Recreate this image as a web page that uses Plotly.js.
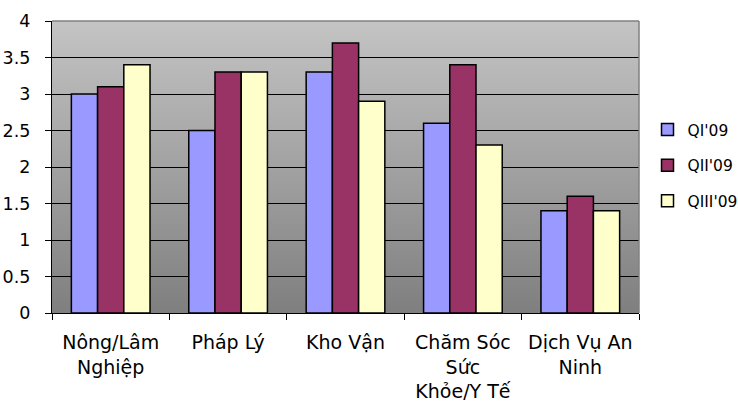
<!DOCTYPE html>
<html>
<head>
<meta charset="utf-8">
<script src="https://cdn.plot.ly/plotly-3.0.1.min.js"></script>
<style>html,body{margin:0;padding:0;background:#fff;}#chart{width:738px;height:407px;}</style>
</head>
<body>
<div id="chart"></div>
<script>
const categories = ["Nông/Lâm<br>Nghiệp", "Pháp Lý", "Kho Vận", "Chăm Sóc<br>Sức<br>Khỏe/Y Tế", "Dịch Vụ An<br>Ninh"];
const seriesNames = ["QI'09", "QII'09", "QIII'09"];
const q1 = [3.0, 2.5, 3.3, 2.6, 1.4];
const q2 = [3.1, 3.3, 3.7, 3.4, 1.6];
const q3 = [3.4, 3.3, 2.9, 2.3, 1.4];
const colors = ["#9999FF", "#993366", "#FFFFCC"];
const yTicks = [0, 0.5, 1, 1.5, 2, 2.5, 3, 3.5, 4];

const fam = "DejaVu Sans, sans-serif";
const yFont = {family: fam, size: 17.5, color: "#000"};
const xFont = {family: fam, size: 19, color: "#000"};
const legFont = {family: fam, size: 15.5, color: "#000"};
const data = [q1, q2, q3].map((vals, i) => ({
  type: "bar", x: categories, y: vals, name: seriesNames[i], legendgroup: "g" + i,
  marker: {color: colors[i], line: {color: "#000", width: 1.5}}
}));

const grad = 'data:image/svg+xml;utf8,' + encodeURIComponent(
  '<svg xmlns="http://www.w3.org/2000/svg" width="100" height="100" preserveAspectRatio="none">' +
  '<defs><linearGradient id="g" x1="0" y1="0" x2="0" y2="1"><stop offset="0" stop-color="#c4c4c4"/><stop offset="1" stop-color="#7f7f7f"/></linearGradient></defs>' +
  '<rect width="100" height="100" fill="url(#g)"/></svg>');

const layout = {
  width: 738, height: 407,
  margin: {l: 52, r: 99, t: 21, b: 94, autoexpand: false},
  paper_bgcolor: "#fff", plot_bgcolor: "rgba(0,0,0,0)",
  font: yFont,
  barmode: "group", bargap: 0.33, bargroupgap: 0,
  xaxis: {
    showline: true, linecolor: "#000", linewidth: 1,
    ticks: "outside", tickson: "boundaries", ticklen: 6, tickcolor: "#000",
    showgrid: false, tickfont: xFont, automargin: false, ticklabelstandoff: 12
  },
  yaxis: {
    range: [0, 4], tickvals: yTicks, ticktext: yTicks.map(v => String(v) + "\u00a0\u00a0"),
    showline: true, linecolor: "#000", linewidth: 1,
    ticks: "outside", ticklen: 6, tickcolor: "#000",
    showgrid: true, gridcolor: "#000", gridwidth: 1, zeroline: false,
    tickfont: yFont, automargin: false
  },
  legend: {x: 1.0145, y: 0.685, xanchor: "left", yanchor: "top", font: legFont, bgcolor: "rgba(0,0,0,0)",
           itemwidth: 30, traceorder: "grouped", tracegroupgap: 12.5},
  images: [{source: grad, xref: "paper", yref: "paper", x: 0, y: 1, sizex: 1, sizey: 1, sizing: "stretch", layer: "below", xanchor: "left", yanchor: "top"}],
  shapes: [
    {type: "line", xref: "paper", yref: "paper", x0: 0, x1: 1, y0: 1, y1: 1, line: {color: "#808080", width: 1.5}, layer: "above"},
    {type: "line", xref: "paper", yref: "paper", x0: 1, x1: 1, y0: 0, y1: 1, line: {color: "#808080", width: 1.5}, layer: "above"}
  ],
  showlegend: true
};
Plotly.newPlot("chart", data, layout, {staticPlot: true, displayModeBar: false});
</script>
</body>
</html>
